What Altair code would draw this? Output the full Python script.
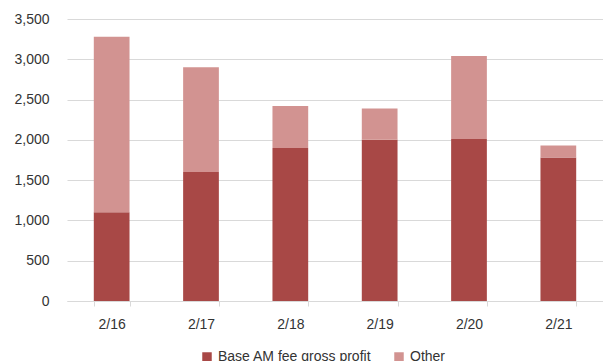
import altair as alt
import pandas as pd

years = ["2/16", "2/17", "2/18", "2/19", "2/20", "2/21"]
base = [1100, 1600, 1900, 2000, 2010, 1780]
other = [2180, 1300, 520, 390, 1030, 150]
series = ["Base AM fee gross profit", "Other"]
colors = ["#A84846", "#D29391"]

rows = []
for i, y in enumerate(years):
    rows.append({"year": y, "series": series[0], "value": base[i], "ord": 0})
    rows.append({"year": y, "series": series[1], "value": other[i], "ord": 1})
df = pd.DataFrame(rows)

font = "Liberation Sans"
chart = alt.Chart(df).mark_bar().encode(
    x=alt.X("year:N", sort=years, title=None,
            scale=alt.Scale(paddingInner=0.6, paddingOuter=0.3),
            axis=alt.Axis(labelAngle=0, domainColor="#d9d9d9", tickColor="#d9d9d9",
                          tickBand="extent", tickSize=5, labelColor="#333333",
                          labelFontSize=14, labelFont=font, labelPadding=11)),
    y=alt.Y("value:Q", title=None, stack="zero",
            scale=alt.Scale(domain=[0, 3500], nice=False),
            axis=alt.Axis(values=[0, 500, 1000, 1500, 2000, 2500, 3000, 3500], format=",.0f",
                          domain=False, ticks=False, gridColor="#d9d9d9",
                          labelColor="#333333", labelFontSize=14, labelFont=font,
                          labelPadding=18)),
    color=alt.Color("series:N", sort=series,
                    scale=alt.Scale(domain=series, range=colors),
                    legend=alt.Legend(title=None, orient="none", direction="horizontal",
                                      legendX=133, legendY=331, symbolType="square",
                                      symbolSize=90, labelFontSize=14, labelFont=font,
                                      labelColor="#333333", columnPadding=20,
                                      symbolStrokeWidth=0)),
    order=alt.Order("ord:Q", sort="ascending"),
).properties(
    width=536, height=282,
    autosize=alt.AutoSizeParams(type="none"),
    padding={"left": 67, "top": 19, "right": 0, "bottom": 60},
).configure_view(stroke=None)

chart.save("out.html", embed_options={"renderer": "svg", "actions": False})
